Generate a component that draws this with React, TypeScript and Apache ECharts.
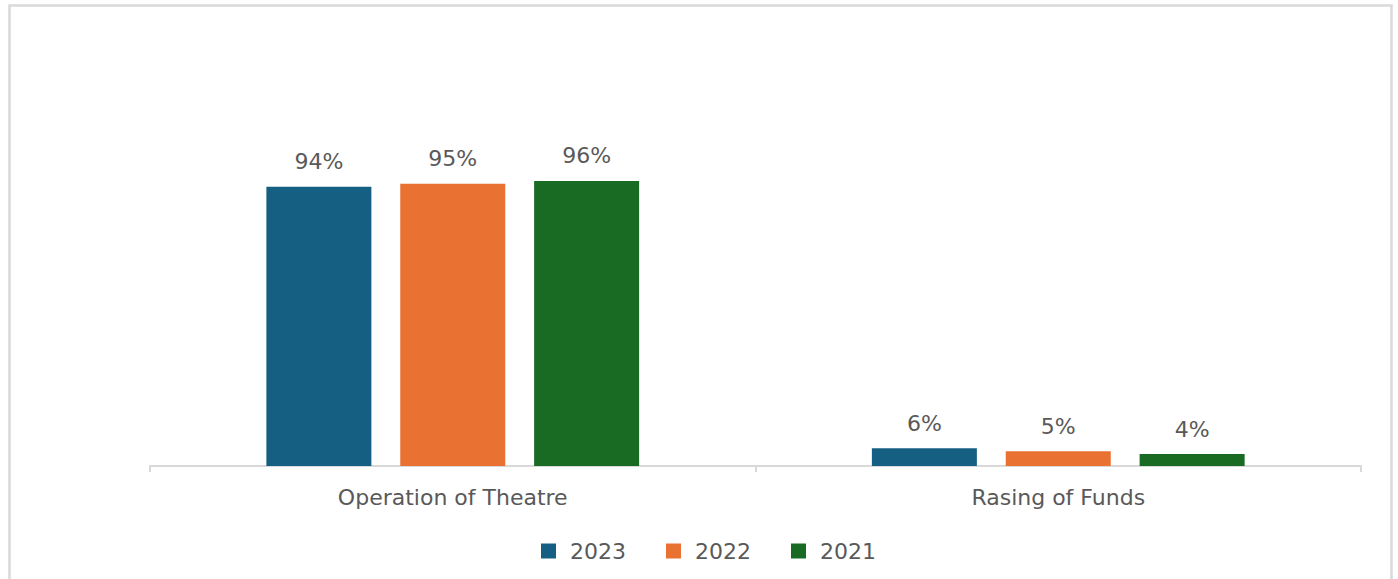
import React, { useEffect, useRef } from "react";
import * as echarts from "echarts";

const categories = ["Operation of Theatre", "Rasing of Funds"];
const seriesNames = ["2023", "2022", "2021"];
const values2023 = [94, 6];
const values2022 = [95, 5];
const values2021 = [96, 4];
const colors = ["#156082", "#E97132", "#196B24"];

export default function App() {
  const ref = useRef<HTMLDivElement>(null);
  useEffect(() => {
    document.body.style.margin = "0";
    const chart = echarts.init(ref.current!, undefined, { renderer: "svg" });
    const font = "DejaVu Sans";
    const data = [values2023, values2022, values2021];
    chart.setOption({
      animation: false,
      backgroundColor: "#ffffff",
      graphic: [
        {
          type: "rect",
          shape: { x: 9.5, y: 5.5, width: 1382, height: 640 },
          style: { fill: "none", stroke: "#d9d9d9", lineWidth: 2.5 },
          silent: true,
        },
      ],
      grid: { left: 150, right: 37, top: 169, bottom: 113 },
      legend: {
        data: seriesNames,
        left: 536,
        top: 535,
        icon: "rect",
        itemWidth: 15,
        itemHeight: 15,
        itemGap: 40,
        textStyle: { color: "#595959", fontSize: 22, fontFamily: font, padding: [0, 0, 0, 9] },
      },
      xAxis: {
        type: "category",
        data: categories,
        axisLine: { lineStyle: { color: "#d9d9d9", width: 2 } },
        axisTick: { show: true, length: 6, lineStyle: { color: "#d9d9d9", width: 2 } },
        axisLabel: { color: "#595959", fontSize: 22, fontFamily: font, margin: 20 },
      },
      yAxis: { type: "value", min: 0, max: 100, show: false, splitLine: { show: false } },
      series: seriesNames.map((name, i) => ({
        name,
        type: "bar",
        data: data[i],
        barWidth: 105,
        barGap: "27.5%",
        itemStyle: { color: colors[i] },
        label: {
          show: true,
          position: "top",
          distance: 14,
          formatter: "{c}%",
          color: "#595959",
          fontSize: 22,
          fontFamily: font,
        },
      })),
    });
    return () => chart.dispose();
  }, []);
  return <div ref={ref} style={{ position: "fixed", left: 0, top: 0, width: 1398, height: 579 }} />;
}
